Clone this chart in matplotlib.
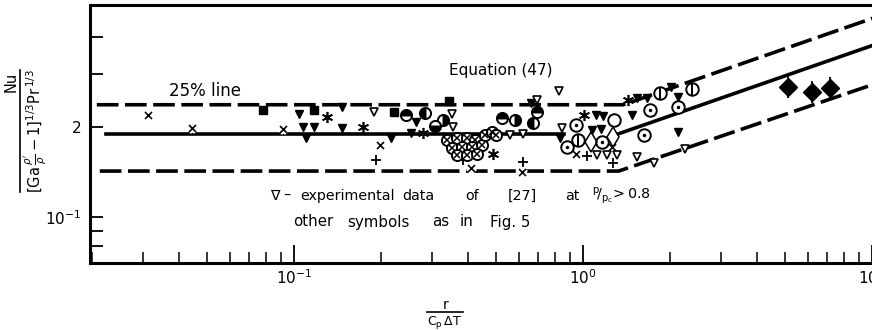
import matplotlib
matplotlib.use("Agg")
import matplotlib.pyplot as plt
import matplotlib.patheffects as pe
from matplotlib.lines import Line2D

plt.rcParams['font.family'] = ['DejaVu Sans']
plt.rcParams['mathtext.fontset'] = 'dejavusans'

# ---------------- data ----------------
# correlation lines (vertices)
upper_x = [0.0208, 1.38, 10.7]
upper_y = [0.2375, 0.2375, 0.472]
lower_x = [0.0213, 1.33, 10.7]
lower_y = [0.1425, 0.1425, 0.283]
mid_flat_x = [0.0224, 0.86]
mid_flat_y = [0.19, 0.19]
mid_slope_x = [1.33, 10.7]
mid_slope_y = [0.19, 0.383]

cross_x = [0.0313, 0.0447, 0.0923, 0.200, 0.413, 0.620, 0.953, 1.270]
cross_y = [0.2193, 0.1975, 0.1960, 0.1741, 0.1458, 0.1414, 0.1624, 0.1714]

tri_fill_x = [0.1041, 0.1074, 0.1100, 0.1173, 0.1466, 0.1466, 0.2166, 0.2540, 0.2643,
              0.6607, 0.8326, 1.109, 1.173, 1.074, 1.154, 1.538, 1.665, 1.477,
              2.016, 2.132, 2.132]
tri_fill_y = [0.2210, 0.2000, 0.1837, 0.2000, 0.2332, 0.1985, 0.1837, 0.1910, 0.2078,
              0.2406, 0.1837, 0.2193, 0.2177, 0.1954, 0.1969, 0.2500, 0.2500, 0.2193,
              0.2721, 0.2519, 0.1925]

tri_open_x = [0.1891, 0.3521, 0.3549, 0.5591, 0.6200, 0.6932, 0.8260, 0.8460,
              1.118, 1.211, 1.311, 1.538, 1.761, 2.254]
tri_open_y = [0.2244, 0.2210, 0.2000, 0.1880, 0.1895, 0.2462, 0.2638, 0.1985,
              0.1612, 0.1612, 0.1612, 0.1587, 0.1516, 0.1688]

square_x = [0.0781, 0.1173, 0.2218, 0.3438]
square_y = [0.2279, 0.2279, 0.2244, 0.2443]

aster_x = [0.1301, 0.1733, 0.2795, 0.4883, 1.008, 1.431]
aster_y = [0.2160, 0.2000, 0.1910, 0.1624, 0.2193, 0.2462]

plus_x = [0.1921, 0.3844, 0.6200, 1.032, 1.270]
plus_y = [0.1551, 0.1551, 0.1527, 0.1600, 0.1516]

half_top_x = [0.2440, 0.5245, 0.6932]
half_top_y = [0.2193, 0.2144, 0.2244]
half_left_x = [0.2840, 0.6714]
half_left_y = [0.2227, 0.2062]
half_right_x = [0.3279, 0.5818]
half_right_y = [0.2111, 0.2111]
half_bottom_x = [0.3076]
half_bottom_y = [0.2016]

otimes_x = [0.3384, 0.3664, 0.3968, 0.4228, 0.3521, 0.3814, 0.4129, 0.4472,
            0.3664, 0.3968, 0.4297, 0.4580, 0.4843, 0.5000]
otimes_y = [0.1809, 0.1837, 0.1837, 0.1809, 0.1701, 0.1714, 0.1714, 0.1741,
            0.1612, 0.1612, 0.1624, 0.1880, 0.1925, 0.1880]

odot_x = [0.8803, 0.9457, 1.163, 1.705, 1.626, 2.132]
odot_y = [0.1714, 0.2031, 0.1781, 0.2279, 0.1880, 0.2332]

phi_x = [0.9610, 1.847, 2.384]
phi_y = [0.1809, 0.2598, 0.2680]

circ_x = [1.280]
circ_y = [0.2111]

lens_x = [1.066, 1.270]
lens_y = [0.1781, 0.1852]

star4_x = [5.120, 6.199, 7.156]
star4_y = [0.2721, 0.2618, 0.2700]

xticks = [0.1, 1, 10]
xticklabels = [r'$10^{-1}$', r'$10^{0}$', r'$10^{1}$']
yticks = [0.08, 0.09, 0.1, 0.2, 0.3, 0.4]
yticklabels = ['', '', r'$10^{-1}$', '2', '', '']

note1_words = ['\u2207', '\u2013', 'experimental', 'data', 'of', '[27]', 'at',
               r'$^{\mathrm{p}}\!/_{\mathrm{p_c}}\!>0.8$']
note2_words = ['other', 'symbols', 'as', 'in', 'Fig. 5']

# ---------------- figure ----------------
W, H = 872, 330
fig = plt.figure(figsize=(W / 100, H / 100), dpi=100)
ax = fig.add_axes([90 / W, 67 / H, 790.4 / W, 258 / H])
ax.set_xscale('log')
ax.set_yscale('log')
ax.set_xlim(0.0197, 10.7)
ax.set_ylim(0.0702, 0.512)

k = 'black'
dash = (0, (6, 1.8))
ax.plot(upper_x, upper_y, color=k, lw=2.6, ls=dash, zorder=2)
ax.plot(lower_x, lower_y, color=k, lw=2.6, ls=dash, zorder=2)
ax.plot(mid_flat_x, mid_flat_y, color=k, lw=2.6, zorder=2)
ax.plot(mid_slope_x, mid_slope_y, color=k, lw=2.6, zorder=2)

halo = [pe.withStroke(linewidth=4, foreground='white')]
ax.plot(cross_x, cross_y, ls='none', marker='x', ms=5, mew=1.2, color=k,
        path_effects=halo, zorder=4)
ax.plot(tri_fill_x, tri_fill_y, ls='none', marker='v', ms=6, color=k, zorder=4)
ax.plot(tri_open_x, tri_open_y, ls='none', marker='v', ms=6, mfc='white',
        mec=k, mew=1.2, zorder=4)
ax.plot(square_x, square_y, ls='none', marker='s', ms=5.5, color=k, zorder=4)
ax.plot(aster_x, aster_y, ls='none', marker=(6, 2, 0), ms=8, mew=1.2, color=k, zorder=4)
ax.plot(plus_x, plus_y, ls='none', marker='+', ms=7, mew=1.3, color=k, zorder=4)
for hx, hy, fs in [(half_top_x, half_top_y, 'top'), (half_left_x, half_left_y, 'left'),
                   (half_right_x, half_right_y, 'right'),
                   (half_bottom_x, half_bottom_y, 'bottom')]:
    ax.plot(hx, hy, ls='none', marker='o', ms=8, fillstyle=fs, mfc=k,
            mfcalt='white', mec=k, mew=1.4, zorder=5)
ax.plot(otimes_x, otimes_y, ls='none', marker='o', ms=8, mfc='white', mec=k,
        mew=1.4, zorder=5)
ax.plot(otimes_x, otimes_y, ls='none', marker='x', ms=5, mew=1.1, color=k, zorder=6)
ax.plot(odot_x, odot_y, ls='none', marker='o', ms=9, mfc='white', mec=k,
        mew=1.4, zorder=5)
ax.plot(odot_x, odot_y, ls='none', marker='.', ms=3, color=k, zorder=6)
ax.plot(phi_x, phi_y, ls='none', marker='o', ms=9, mfc='white', mec=k,
        mew=1.4, zorder=5)
ax.plot(phi_x, phi_y, ls='none', marker='|', ms=9, mew=1.4, color=k, zorder=6)
ax.plot(circ_x, circ_y, ls='none', marker='o', ms=9, mfc='white', mec=k,
        mew=1.4, zorder=5)
ax.plot(lens_x, lens_y, ls='none', marker='d', ms=10, mfc='none', mec=k,
        mew=1.1, zorder=5)
ax.plot(star4_x, star4_y, ls='none', marker='|', ms=16, mew=1.3, color=k, zorder=5)
ax.plot(star4_x, star4_y, ls='none', marker='D', ms=9.5, color=k, zorder=6)

# axes styling
for s in ax.spines.values():
    s.set_linewidth(2.2)
ax.set_xticks(xticks)
ax.set_xticklabels(xticklabels)
ax.set_yticks(yticks)
ax.set_yticklabels(yticklabels)
ax.minorticks_on()
ax.yaxis.set_minor_locator(matplotlib.ticker.NullLocator())
ax.tick_params(axis='x', which='major', direction='in', length=13, width=1.3,
               labelsize=11, pad=4, top=False)
ax.tick_params(axis='x', which='minor', direction='in', length=8, width=1.1, top=False)
ax.tick_params(axis='y', which='major', direction='in', length=9, width=1.3,
               labelsize=11, pad=6, right=False)

# texts
def ftx(px, py, s, **kw):
    fig.text(px / W, 1 - py / H, s, **kw)

def fline(xs, ys, lw=1.2):
    fig.add_artist(Line2D([x / W for x in xs], [1 - y / H for y in ys],
                          color=k, lw=lw, transform=fig.transFigure))

ftx(205, 91, '25% line', ha='center', va='center', fontsize=12)
ftx(501, 70, 'Equation (47)', ha='center', va='center', fontsize=11)
for wx, w in zip([270, 283, 300, 402, 465, 508, 565, 592], note1_words):
    ftx(wx, 196, w, ha='left', va='center', fontsize=10.3)
for wx, w in zip([293, 347, 432, 460, 490], note2_words):
    ftx(wx, 222, w, ha='left', va='center', fontsize=10.8)

# x-axis label: r / (C_p dT)
ftx(446, 309, 'r', ha='center', va='baseline', fontsize=10)
fline([427, 463], [312, 312])
ftx(445, 314, r'$\mathrm{C_p\,\Delta T}$', ha='center', va='top', fontsize=9)

# y-axis label: Nu / ([Ga rho'/rho - 1]^(1/3) Pr^(1/3))
ftx(11, 82, 'Nu', ha='center', va='center', rotation=90, fontsize=10.5)
fline([20, 20], [70, 192])
ftx(35, 131, r'$[\mathrm{Ga}\,\frac{\rho^{\prime}}{\rho}-1]^{1/3}\mathrm{Pr}^{\,1/3}$',
    ha='center', va='center', rotation=90, fontsize=10.5)

fig.savefig('out.png', dpi=100)
